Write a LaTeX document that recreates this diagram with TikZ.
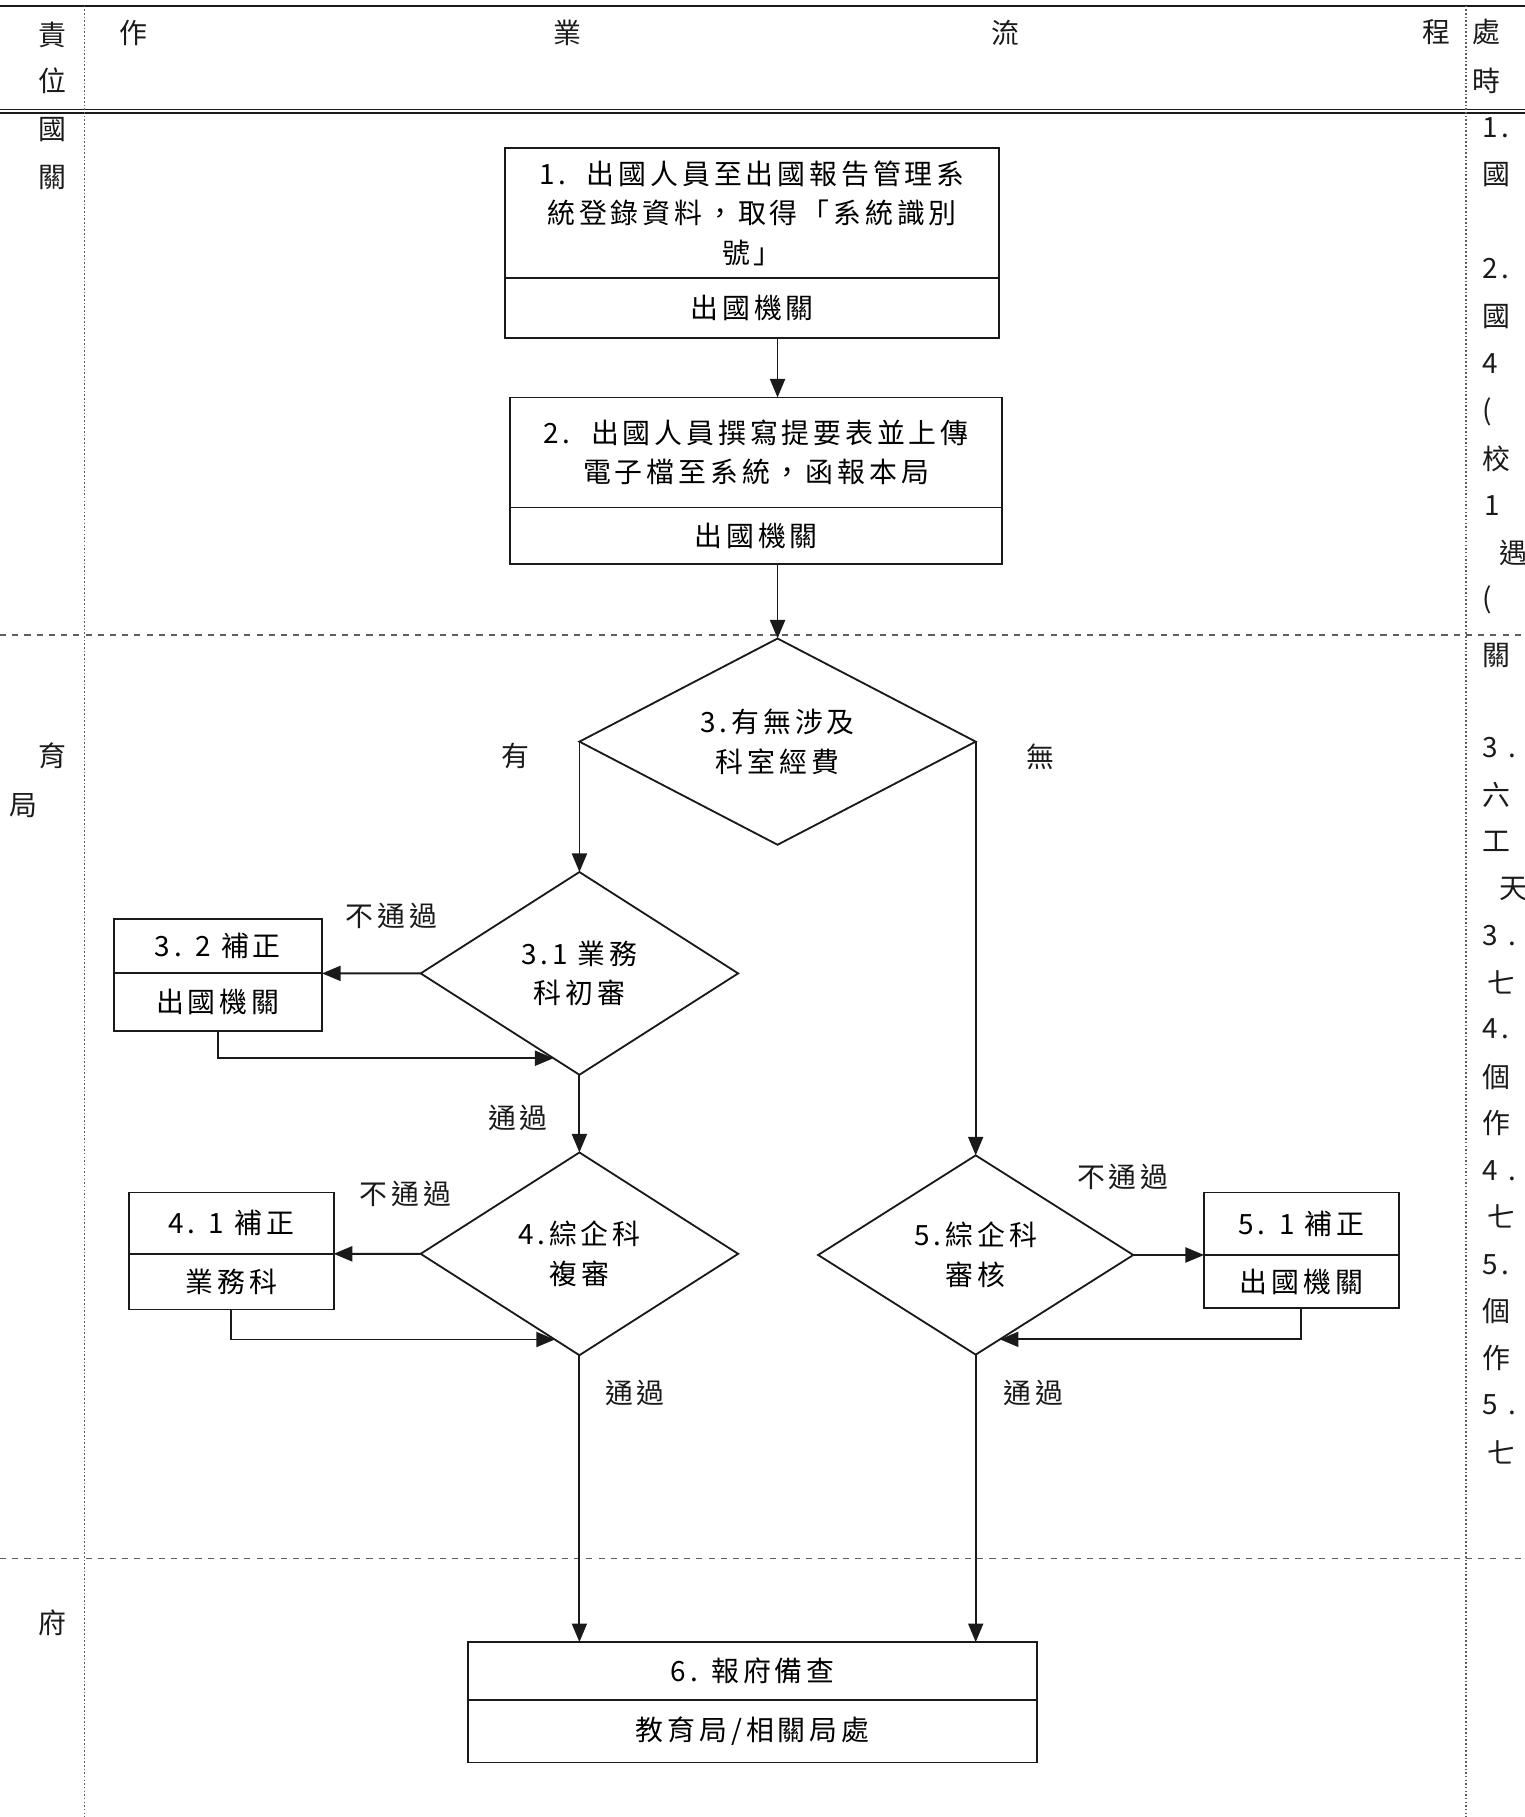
\documentclass[tikz,border=0pt]{standalone}
\usepackage{fontspec}
\setmainfont{Noto Sans CJK TC}[LetterSpace=14]
\usetikzlibrary{
  positioning,
  arrows.meta,
  shapes.geometric
}
\definecolor{inkBlack}{HTML}{1A1A1A}
\definecolor{ruleGray}{HTML}{5E5E5E}
\newcommand{\flowfont}{\fontsize{13.7pt}{19.4pt}\selectfont}
\tikzset{
  procbox/.style  = {rectangle, draw=inkBlack, line width=0.9pt, outer sep=0pt,
                     inner sep=0pt, align=center, font=\flowfont},
  decision/.style = {diamond, draw=inkBlack, line width=0.9pt, outer sep=0pt,
                     inner sep=0pt, aspect=2, align=center, font=\flowfont},
  flow/.style     = {-{Triangle[length=3.2mm, width=2.6mm]},
                     line width=0.9pt, draw=inkBlack},
  lbl/.style      = {font=\flowfont, inner sep=0pt, text=inkBlack},
  colrule/.style  = {draw=ruleGray, line width=0.8pt, densely dotted},
  lanerule/.style = {draw=ruleGray, line width=0.8pt, dashed}
}

\begin{document}
\begin{tikzpicture}[x=0.02cm, y=-0.02cm]
\useasboundingbox (0,0) rectangle (1316,1568);
\clip (0,0) rectangle (1316,1568);
  % Table frame
  \draw[draw=inkBlack, line width=0.7pt] (0,5) -- (1316,5);
  \draw[draw=inkBlack, line width=0.6pt, double, double distance=1.2pt]
       (0,96) -- (1316,96);
  \draw[colrule] (73,5) -- (73,1568);
  \draw[colrule] (1265,5) -- (1265,1568);
  \draw[lanerule] (0,548) -- (1316,548);
  \draw[lanerule] (0,1345) -- (1316,1345);
  % Header row
  \node[lbl] (hdResp1) at (45,30) {責};
  \node[lbl] (hdResp2) at (45,70) {位};
  \node[lbl] (hdFlow1) at (115,28) {作};
  \node[lbl] (hdFlow2) at (490,28) {業};
  \node[lbl] (hdFlow3) at (868,28) {流};
  \node[lbl] (hdFlow4) at (1240,28) {程};
  \node[lbl] (hdTime1) at (1283,28) {處};
  \node[lbl] (hdTime2) at (1283,70) {時};
  % Responsible units (left column)
  \node[lbl] (unitA1) at (45,112) {國};
  \node[lbl] (unitA2) at (45,153) {關};
  \node[lbl] (unitB1) at (45,652) {育};
  \node[lbl] (unitB2) at (20,695) {局};
  \node[lbl] (unitC1) at (45,1400) {府};
  % Processing time (right column)
  \foreach \x/\y/\t in {1279/110/1., 1279/151/國, 1279/232/2., 1279/273/國,
      1279/314/4, 1279/355/{(}, 1279/396/校, 1281/436/1, 1294/477/遇,
      1279/518/{(}, 1279/566/關, 1279/645/3 ., 1279/686/六, 1279/726/工,
      1294/767/天, 1279/807/3 ., 1283/848/七, 1279/888/4., 1279/929/個,
      1279/969/作, 1279/1010/4 ., 1283/1050/七, 1279/1091/5., 1279/1131/個,
      1279/1172/作, 1279/1212/5 ., 1283/1253/七}{
    \node[lbl, anchor=west] (time\y) at (\x,\y) {\t};
  }
  % Steps 1 and 2
  \node[procbox, minimum width=8.52cm, minimum height=2.24cm] (b1) at (649,184)
       {1.\ \ 出國人員至出國報告管理系\\統登錄資料，取得「系統識別\\號」};
  \node[procbox, minimum width=8.52cm, minimum height=1.04cm, below=0pt of b1]
       (b1org) {出國機關};
  \node[procbox, minimum width=8.5cm, minimum height=1.9cm] (b2) at (652.5,390.5)
       {2.\ \ 出國人員撰寫提要表並上傳\\電子檔至系統，函報本局};
  \node[procbox, minimum width=8.5cm, minimum height=0.98cm, below=0pt of b2]
       (b2org) {出國機關};
  % Decisions
  \node[decision, minimum width=6.84cm, minimum height=3.56cm] (d3) at (671,640)
       {3.有無涉及\\科室經費};
  \node[decision, minimum width=5.48cm, minimum height=3.5cm] (d31) at (500,840)
       {3.1 業務\\科初審};
  \node[decision, minimum width=5.48cm, minimum height=3.5cm] (d4) at (500,1082)
       {4.綜企科\\複審};
  \node[decision, minimum width=5.44cm, minimum height=3.44cm] (d5) at (842,1083)
       {5.綜企科\\審核};
  % Corrections
  \node[procbox, minimum width=3.6cm, minimum height=0.94cm] (b32) at (188,816.5)
       {3. 2 補正};
  \node[procbox, minimum width=3.6cm, minimum height=1cm, below=0pt of b32]
       (b32org) {出國機關};
  \node[procbox, minimum width=3.54cm, minimum height=1.06cm] (b41) at (199.5,1055.5)
       {4. 1 補正};
  \node[procbox, minimum width=3.54cm, minimum height=0.96cm, below=0pt of b41]
       (b41org) {業務科};
  \node[procbox, minimum width=3.36cm, minimum height=1.08cm] (b51) at (1123,1056)
       {5. 1 補正};
  \node[procbox, minimum width=3.36cm, minimum height=0.92cm, below=0pt of b51]
       (b51org) {出國機關};
  % Step 6
  \node[procbox, minimum width=9.82cm, minimum height=1cm] (b6) at (649.5,1442)
       {6. 報府備查};
  \node[procbox, minimum width=9.82cm, minimum height=1.08cm, below=0pt of b6]
       (b6org) {教育局/相關局處};
  % Branch labels
  \node[lbl] (lblYes)   at (445,652)  {有};
  \node[lbl] (lblNo)    at (898,653)  {無};
  \node[lbl] (lblFail1) at (338,790)  {不通過};
  \node[lbl] (lblPass1) at (447,965)  {通過};
  \node[lbl] (lblFail2) at (350,1030) {不通過};
  \node[lbl] (lblPass2) at (548,1202) {通過};
  \node[lbl] (lblFail3) at (969,1016) {不通過};
  \node[lbl] (lblPass3) at (892,1202) {通過};
  % Connectors
  \draw[flow] (b1org.south -| d3.north) -- (b2.north -| d3.north);
  \draw[flow] (b2org.south -| d3.north) -- (d3.north);
  \draw[flow] (d3.west) -- (d3.west |- d31.north);
  \draw[flow] (d3.east) -- (d3.east |- d5.north);
  \draw[flow] (d31.west) -- (b32.south east);
  \draw[flow] (b32org.south) |- (d31.253);
  \draw[flow] (d31.south) -- (d4.north);
  \draw[flow] (d4.west) -- (b41.south east);
  \draw[flow] (b41org.south) |- (d4.254);
  \draw[flow] (d5.east) -- (b51.south west);
  \draw[flow] (b51org.south) |- (d5.286);
  \draw[flow] (d4.south) -- (b6.north -| d4.south);
  \draw[flow] (d5.south) -- (b6.north -| d5.south);
\end{tikzpicture}
\end{document}
